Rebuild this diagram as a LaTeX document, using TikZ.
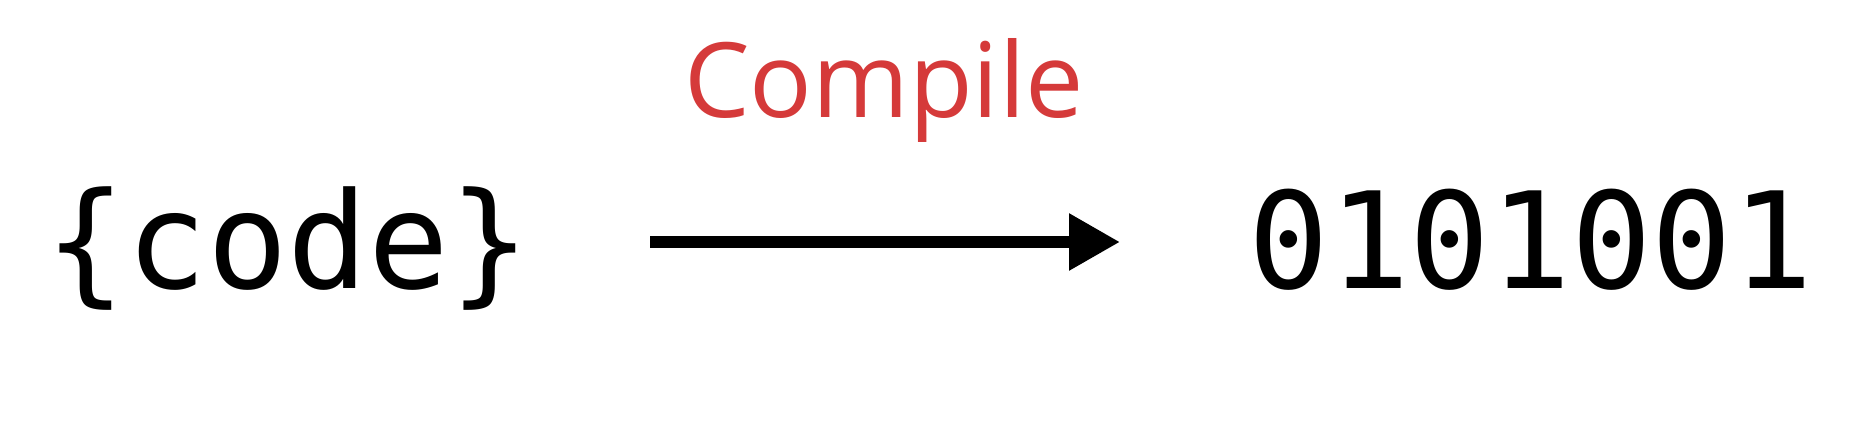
\documentclass[tikz,border=0pt]{standalone}
\usepackage{fontspec}
\setmonofont{DejaVu Sans Mono}
\newfontfamily\labelfont{Open Sans}
\usetikzlibrary{arrows.meta,positioning}
\definecolor{compilered}{RGB}{213,58,58}
\tikzset{
mono text/.style={font=\fontsize{67pt}{67pt}\selectfont\ttfamily, inner sep=0pt, anchor=base},
step label/.style={font=\fontsize{52pt}{52pt}\selectfont\labelfont, text=compilered, inner sep=0pt, anchor=base},
flow/.style={-{Triangle[length=25.5pt,width=27pt]}, line width=6pt},
}

\begin{document}
\begin{tikzpicture}[x=0.5pt,y=0.5pt]
    \useasboundingbox (0,0) rectangle (1852,444);
    \node[mono text] (code) at (288,155) {\{code\}};
    \node[mono text] (bin) at (1531,155) {0101001};
    \node[step label] (compile) at (884,326) {Compile};

    \coordinate (arrow start) at (650,202);
    \coordinate (arrow end) at (1120,202);
    \draw[flow] (arrow start) -- (arrow end);
\end{tikzpicture}
\end{document}
